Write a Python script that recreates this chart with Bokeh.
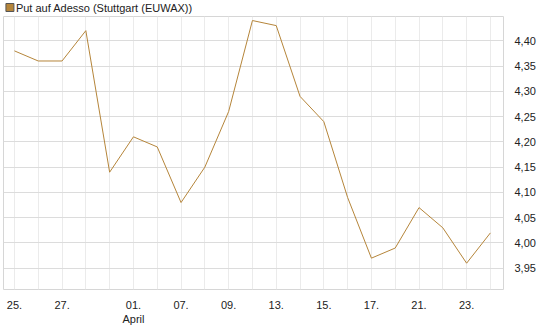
from bokeh.plotting import figure
from bokeh.models import FixedTicker, Range1d
from bokeh.layouts import column
from bokeh.core.properties import value
from bokeh.embed import file_html
from bokeh.resources import INLINE

# --- data ---
title_text = "Put auf Adesso  (Stuttgart (EUWAX))"
values = [4.38, 4.36, 4.36, 4.42, 4.14, 4.21, 4.19, 4.08, 4.15, 4.26, 4.44,
          4.43, 4.29, 4.24, 4.09, 3.97, 3.99, 4.07, 4.03, 3.96, 4.02]
x_idx = list(range(len(values)))
tick_pos = [0, 2, 5, 7, 9, 11, 13, 15, 17, 19]
tick_labels = ["25.", "27.", "01.\nApril", "07.", "09.", "13.", "15.", "17.", "21.", "23."]
y_ticks = [3.95, 4.00, 4.05, 4.10, 4.15, 4.20, 4.25, 4.30, 4.35, 4.40]
y_tick_labels = ["3,95", "4,00", "4,05", "4,10", "4,15", "4,20", "4,25", "4,30", "4,35", "4,40"]

LINE = "#b5853a"
FONT = "Liberation Sans"

# --- header (legend row) ---
hdr = figure(width=545, height=16, output_backend="svg", toolbar_location=None,
             x_range=Range1d(0, 545), y_range=Range1d(16, 0),
             min_border=0, x_axis_location=None, y_axis_location=None)
hdr.grid.visible = False
hdr.outline_line_color = None
hdr.background_fill_color = "white"
hdr.border_fill_color = "white"
hdr.scatter(x=[7], y=[7], marker="square", size=8, fill_color=LINE, line_color="#555555")
hdr.text(x=[13.5], y=[7.5], text=[title_text], text_font=value(FONT),
         text_font_size="11px", text_color="#222222",
         text_baseline="middle", text_align="left")

# --- main chart ---
x0, x1 = -0.46, 20.55
y0, y1 = 3.908, 4.448

p = figure(width=545, height=311, output_backend="svg", toolbar_location=None,
           x_range=Range1d(x0, x1), y_range=Range1d(y0, y1),
           y_axis_location="right",
           min_border_left=3, min_border_right=42, min_border_top=0, min_border_bottom=34)
p.background_fill_color = "white"
p.border_fill_color = "white"
p.outline_line_color = "#d6d6d6"
p.outline_line_width = 1

p.line(x_idx, values, line_color=LINE, line_width=1)

xa = p.xaxis[0]
xa.ticker = FixedTicker(ticks=tick_pos)
xa.major_label_overrides = {t: l for t, l in zip(tick_pos, tick_labels)}
xa.axis_line_color = None
xa.major_tick_line_color = None
xa.minor_tick_line_color = None
xa.major_label_standoff = 3
xa.major_label_text_font = FONT
xa.major_label_text_font_size = "11px"
xa.major_label_text_color = "#222222"

ya = p.yaxis[0]
ya.ticker = FixedTicker(ticks=y_ticks)
ya.major_label_overrides = {t: l for t, l in zip(y_ticks, y_tick_labels)}
ya.axis_line_color = None
ya.major_tick_line_color = None
ya.minor_tick_line_color = None
ya.major_label_standoff = 5
ya.major_label_text_font = FONT
ya.major_label_text_font_size = "11px"
ya.major_label_text_color = "#222222"

p.xgrid.ticker = FixedTicker(ticks=x_idx)
p.xgrid.grid_line_color = "#ebebeb"
p.ygrid.ticker = FixedTicker(ticks=y_ticks)
p.ygrid.grid_line_color = "#dcdcdc"

layout = column(hdr, p, spacing=0)
open("out.html", "w").write(file_html(layout, INLINE))
